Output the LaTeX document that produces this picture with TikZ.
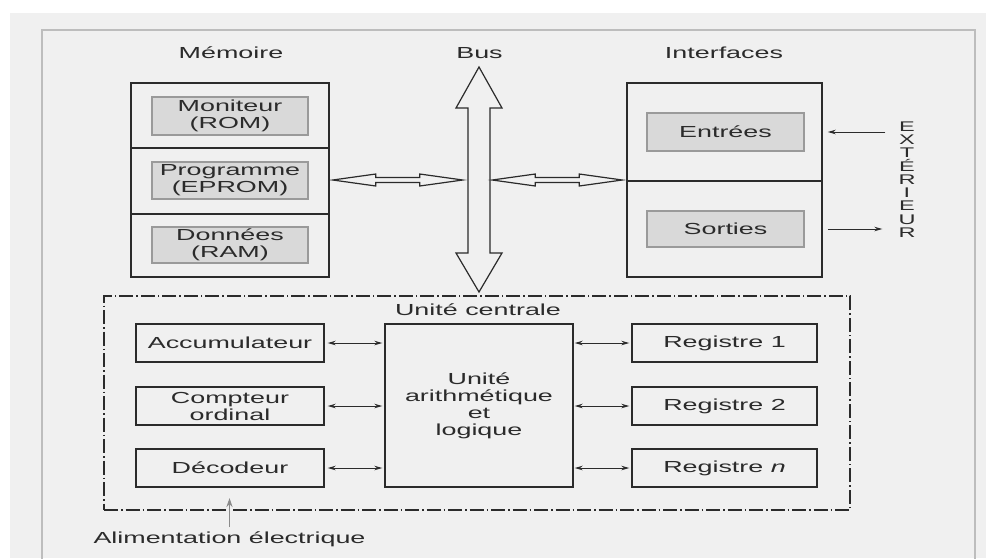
\documentclass[tikz,border=0pt]{standalone}
\usepackage{fontspec}
\setmainfont[FakeStretch=1.68]{Liberation Sans}
\usetikzlibrary{arrows.meta,calc}
\definecolor{bg}{HTML}{F0F0F0}
\definecolor{framec}{HTML}{BDBDBD}
\definecolor{ink}{HTML}{2B2B2B}
\definecolor{cellfill}{HTML}{D9D9D9}
\definecolor{cellline}{HTML}{9A9A9A}
\definecolor{alimc}{HTML}{8A8A8A}
\begin{document}
\begin{tikzpicture}[x=1pt,y=-1pt,
  txt/.style={text=ink,font=\fontsize{16}{17}\selectfont,inner sep=0pt,align=center},
  bigbox/.style={draw=ink,line width=1.5pt,minimum width=#1,inner sep=0pt},
  cell/.style={txt,draw=cellline,fill=cellfill,line width=1.2pt,minimum width=156pt},
  ucbox/.style={txt,draw=ink,line width=1.4pt,minimum width=188pt,minimum height=38pt},
  blockarr/.style={draw=ink,fill=bg,line width=1.2pt,line join=miter},
  link/.style={draw=ink,line width=1pt,{Stealth[length=8pt,width=4.5pt]}-{Stealth[length=8pt,width=4.5pt]}},
  oneway/.style={draw=ink,line width=1pt,-{Stealth[length=8pt,width=4.5pt]}},
  alimarr/.style={draw=alimc,line width=1.2pt,-{Stealth[length=9pt,width=6pt]}},
  dashdot/.style={draw=ink,line width=1.3pt,dash pattern=on 14pt off 3pt on 1.5pt off 3pt}]
\useasboundingbox (0,0) rectangle (986,558);
\fill[white] (0,0) rectangle (986,558);
\fill[bg] (10,13) rectangle (986,558);
\draw[framec,line width=1.5pt] (42,560) -- (42,30) -- (975,30) -- (975,560);

% titles
\node[txt] (lmem) at (231,53) {Mémoire};
\node[txt] (lbus) at (479.5,53) {Bus};
\node[txt] (lint) at (724,53) {Interfaces};

% memory
\node[bigbox=198pt,minimum height=194pt] (mem) at (230,180) {};
\draw[ink,line width=1.5pt] (mem.west |- 0,148) -- (mem.east |- 0,148);
\draw[ink,line width=1.5pt] (mem.west |- 0,214) -- (mem.east |- 0,214);
\node[cell,minimum height=38pt] (mon) at (230,116) {Moniteur\\(ROM)};
\node[cell,minimum height=37pt] (prog) at (230,180.5) {Programme\\(EPROM)};
\node[cell,minimum height=36pt] (don) at (230,245) {Données\\(RAM)};

% interfaces
\node[bigbox=195pt,minimum height=194pt] (intf) at (724.5,180) {};
\draw[ink,line width=1.5pt] (intf.west |- 0,181) -- (intf.east |- 0,181);
\node[cell,minimum width=157pt,minimum height=38pt] (ent) at (725.5,132) {Entrées};
\node[cell,minimum width=157pt,minimum height=36pt] (sor) at (725.5,229) {Sorties};

% exterieur
\node[text=ink,font=\fontsize{14}{13.3}\selectfont,inner sep=0pt,align=center] (ext) at (907,179.5)
  {E\\X\\T\\É\\R\\I\\E\\U\\R};
\draw[oneway] ([xshift=-13pt]ext.west |- ent) -- ([xshift=5pt]intf.east |- ent);
\draw[oneway] ([xshift=5pt]intf.east |- sor) -- ([xshift=-16pt]ext.west |- sor);

% bus
\coordinate (bustop) at (479,67);
\draw[blockarr] (bustop) -- ++(23,41) -- ++(-12,0) -- ++(0,145) -- ++(12,0)
  -- ++(-23,39) -- ++(-23,-39) -- ++(12,0) -- ++(0,-145) -- ++(-12,0) -- cycle;
\draw[blockarr] ([xshift=3pt]mem.east) -- ++(43,-6) -- ++(0,3.5) -- ++(44,0) -- ++(0,-3.5)
  -- ++(43,6) -- ++(-43,6) -- ++(0,-3.5) -- ++(-44,0) -- ++(0,3.5) -- cycle;
\draw[blockarr] ([xshift=-134pt]intf.west) -- ++(43,-6) -- ++(0,3.5) -- ++(44,0) -- ++(0,-3.5)
  -- ++(43,6) -- ++(-43,6) -- ++(0,-3.5) -- ++(-44,0) -- ++(0,3.5) -- cycle;

% unite centrale
\node[dashdot,minimum width=746pt,minimum height=214pt,inner sep=0pt] (uc) at (477,403) {};
\node[txt] (luc) at (478,310) {Unité centrale};
\node[ucbox,minimum height=163pt] (alu) at (479,405.5) {Unité\\arithmétique\\et\\logique};
\node[ucbox] (acc) at (230,343) {Accumulateur};
\node[ucbox] (cpt) at (230,406) {Compteur\\ordinal};
\node[ucbox] (dec) at (230,468) {Décodeur};
\node[ucbox,minimum width=185pt] (r1) at (724.5,343) {Registre 1};
\node[ucbox,minimum width=185pt] (r2) at (724.5,406) {Registre 2};
\node[ucbox,minimum width=185pt] (rn) at (724.5,468) {Registre \textit{n}};
\foreach \b in {acc,cpt,dec}{
  \draw[link] ([xshift=3pt]\b.east) -- ([xshift=-2pt]alu.west |- \b.east);
}
\foreach \b in {r1,r2,rn}{
  \draw[link] ([xshift=1pt]alu.east |- \b.west) -- ([xshift=-2pt]\b.west);
}

% alimentation
\node[txt,anchor=base] (alim) at (229.5,543) {Alimentation électrique};
\draw[alimarr] ([yshift=16pt]alim.base) -- ([yshift=45pt]alim.base);
\end{tikzpicture}
\end{document}
